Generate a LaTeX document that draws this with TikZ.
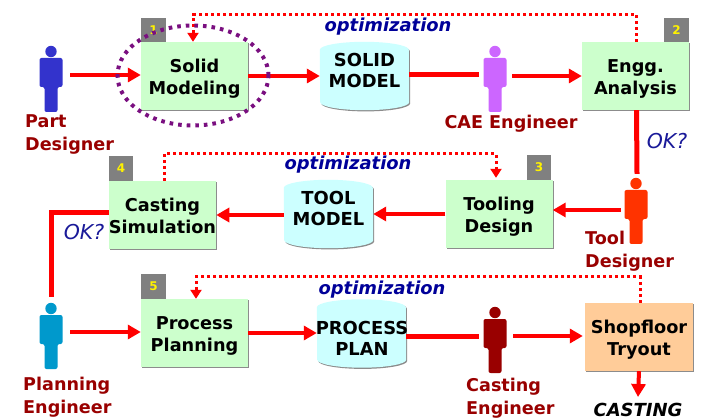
\documentclass[tikz,border=0pt]{standalone}
\usepackage{fontspec}
\setmainfont{DejaVu Sans}
\usetikzlibrary{arrows.meta,shapes.geometric,shadows}
\definecolor{boxg}{HTML}{CCFFCC}
\definecolor{cyl}{HTML}{CCFFFF}
\definecolor{orng}{HTML}{FFCC99}
\definecolor{dred}{HTML}{990000}
\definecolor{optb}{HTML}{000099}
\definecolor{okb}{HTML}{1A1A99}
\definecolor{purp}{HTML}{7A0F80}
\definecolor{pblue}{HTML}{3333CC}
\definecolor{pviolet}{HTML}{CC66FF}
\definecolor{porange}{HTML}{FF3300}
\definecolor{pteal}{HTML}{0099CC}
\newcommand{\lift}[1]{\rule{0pt}{#1pt}}
\tikzset{
  x=1pt,y=-1pt,
  softshadow/.style={drop shadow={shadow xshift=1pt,shadow yshift=-1.2pt,fill=black!45,opacity=1}},
  stepbox/.style={rectangle,fill=boxg,softshadow,minimum width=107pt,minimum height=68pt,inner sep=0pt,align=center,font=\fontsize{17.7}{22}\selectfont\bfseries,text=black},
  shopbox/.style={stepbox,fill=orng},
  badge/.style={rectangle,fill=black!50,minimum width=24.5pt,minimum height=24.5pt,inner sep=0pt,text=yellow,font=\fontsize{12}{12}\selectfont\bfseries},
  store/.style={rectangle,minimum width=89pt,minimum height=68pt,inner sep=0pt},
  storetext/.style={inner sep=0pt,align=center,font=\fontsize{17.9}{21}\selectfont\bfseries,text=black},
  persona/.style={rectangle,minimum width=38pt,minimum height=66pt,inner sep=0pt},
  who/.style={text=dred,align=left,inner sep=0pt,font=\fontsize{17.6}{22.5}\selectfont\bfseries},
  opt/.style={text=optb,inner sep=0pt,font=\fontsize{17.9}{20}\selectfont\bfseries\itshape},
  okq/.style={text=okb,inner sep=0pt,font=\fontsize{20.5}{22}\selectfont\itshape},
  flow/.style={draw=red,line width=4pt,-{Triangle[length=13pt,width=14pt]}},
  plain/.style={draw=red,line width=5pt},
  retry/.style={draw=red,line width=3pt,dash pattern=on 3pt off 3pt},
  retryhead/.style={retry,-{Triangle[length=9pt,width=11pt]}},
}
\newcommand{\staff}[4]{%
  \node[persona] (#1) at (#2,#3) {};
  \begin{scope}[shift={(#1.center)}]
    \fill[#4] (0,-27.5) circle (5.7);
    \fill[#4,rounded corners=2pt] (-11.5,-21) -- (11.5,-21) -- (11.5,8) -- (6.5,8) -- (6.5,33) -- (-6.5,33) -- (-6.5,8) -- (-11.5,8) -- cycle;
  \end{scope}}
\newcommand{\drum}[3]{%
  \node[store] (#1) at (#2,#3) {};
  \path[fill=cyl,softshadow] ([yshift=-8pt]#1.north west)
    arc[start angle=180,end angle=0,x radius=44.5pt,y radius=8pt]
    -- ([yshift=8pt]#1.south east)
    arc[start angle=360,end angle=180,x radius=44.5pt,y radius=8pt]
    -- cycle;}
\begin{document}
\begin{tikzpicture}
\useasboundingbox (0,0) rectangle (703,419);
\fill[white] (0,0) rectangle (703,419);
% process boxes
\node[stepbox] (solid) at (194.5,76) {\lift{18}Solid\\Modeling};
\node[stepbox] (engg) at (635.5,76) {\lift{18}Engg.\\Analysis};
\node[stepbox] (tool) at (499,214) {\lift{18}Tooling\\Design};
\node[stepbox] (cast) at (162.5,215) {\lift{16}Casting\\Simulation};
\node[stepbox] (proc) at (194.5,333) {\lift{18}Process\\Planning};
\node[shopbox,minimum width=108pt] (shop) at (639,337) {\lift{19}Shopfloor\\Tryout};
% badges
\node[badge] (b1) at (153.5,30) {1};
\node[badge] (b2) at (676.5,30) {2};
\node[badge] (b3) at (539,167.5) {3};
\node[badge] (b4) at (121,168.5) {4};
\node[badge] (b5) at (153.5,286.5) {5};
% models
\drum{smodel}{364.5}{76}
\drum{tmodel}{328.5}{214}
\drum{pmodel}{361.5}{333.5}
\node[storetext] (smodeltext) at (364.5,70.5) {SOLID\\MODEL};
\node[storetext] (tmodeltext) at (328.5,208.5) {TOOL\\MODEL};
\node[storetext] (pmodeltext) at (362,338.5) {PROCESS\\PLAN};
% people
\staff{part}{51}{79}{pblue}
\staff{cae}{495}{79}{pviolet}
\staff{tdes}{636}{211}{porange}
\staff{plan}{51}{336}{pteal}
\staff{cst}{495}{340}{dred}
% people labels
\node[who,anchor=north west] (lpart) at (25,114.5) {Part\\Designer};
\node[who] (lcae) at (511,123.5) {CAE Engineer};
\node[who,anchor=north west] (ltdes) at (585,231) {Tool\\Designer};
\node[who,anchor=north west] (lplan) at (23,377) {Planning\\Engineer};
\node[who,anchor=north west] (lcst) at (466,378) {Casting\\Engineer};
\node[inner sep=0pt,font=\fontsize{18}{20}\selectfont\bfseries\itshape] (casting) at (638,409.5) {CASTING};
% other labels
\node[opt] (o1) at (388,27) {optimization};
\node[opt] (o2) at (348,165) {optimization};
\node[opt] (o3) at (382,290) {optimization};
\node[okq] (ok1) at (667,141) {OK?};
\node[okq] (ok2) at (84,232) {OK?};
% flow
\draw[flow] ([yshift=4pt]part.east) -- ([yshift=1pt]solid.west);
\draw[flow] (solid.east) -- (smodel.west);
\draw[plain] ([yshift=1pt]smodel.east) -- ([yshift=4pt,xshift=3pt]cae.west);
\draw[flow] ([yshift=3pt,xshift=-2pt]cae.east) -- (engg.west);
\draw[plain] ([xshift=1pt]engg.south) -- ([yshift=4pt,xshift=1pt]tdes.north);
\draw[flow] ([yshift=1pt,xshift=4pt]tdes.west) -- ([yshift=4pt]tool.east);
\draw[flow] (tool.west) -- (tmodel.east);
\draw[flow] ([yshift=-1pt]tmodel.west) -- (cast.east);
\draw[plain] ([yshift=2pt]cast.west) -| ([yshift=6pt]plan.north);
\draw[flow] ([yshift=4pt]plan.east) -- ([yshift=1pt]proc.west);
\draw[flow] (proc.east) -- ([yshift=0.5pt]pmodel.west);
\draw[plain] ([yshift=-2.5pt]pmodel.east) -- ([yshift=4pt,xshift=3pt]cst.west);
\draw[flow] ([yshift=4pt,xshift=-1pt]cst.east) -- ([xshift=-2pt,yshift=1pt]shop.west);
\draw[flow] (shop.south) -- ([yshift=5.5pt]casting.north);
% optimisation loops
\draw[retryhead] ([xshift=1pt]engg.north) -- ++(0,-27) -| ([xshift=-1.5pt]solid.north);
\draw[retryhead] ([xshift=1.5pt]cast.north) -- ++(0,-27) -| ([xshift=-3pt,yshift=2pt]tool.north);
\draw[retryhead] ([xshift=1pt]shop.north) -- ++(0,-26) -| ([xshift=1.5pt]proc.north);
% highlight
\node[draw=purp,line width=4pt,dash pattern=on 3.6pt off 5pt,ellipse,minimum width=151pt,minimum height=100pt,inner sep=0pt] (ring) at (193,75.5) {};
\end{tikzpicture}
\end{document}
